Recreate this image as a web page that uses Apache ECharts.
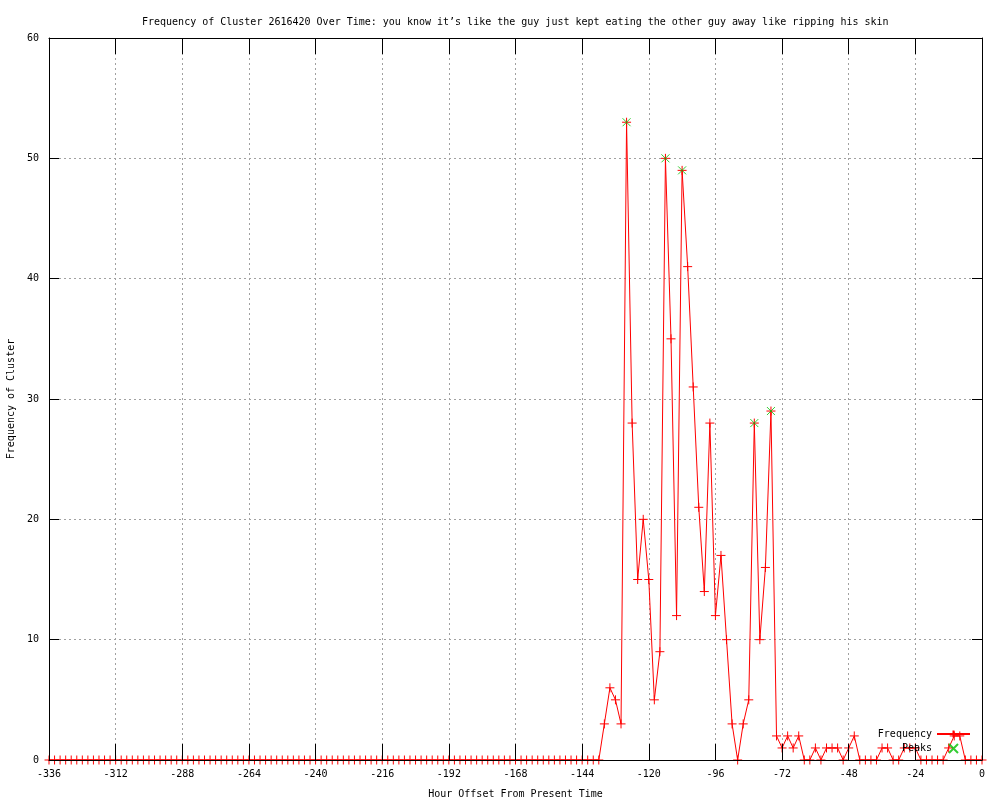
<!DOCTYPE html>
<html><head><meta charset="utf-8">
<script src="https://cdn.jsdelivr.net/npm/echarts@6/dist/echarts.min.js"></script>
<style>html,body{margin:0;padding:0;background:#fff}#c{width:1000px;height:800px}</style>
</head><body><div id="c"></div>
<script>
const titleText = 'Frequency of Cluster 2616420 Over Time: you know it\u2019s like the guy just kept eating the other guy away like ripping his skin';
const xAxisName = 'Hour Offset From Present Time';
const yAxisName = 'Frequency of Cluster';
const seriesNames = ['Frequency', 'Peaks'];

const hours = [
-336,-334,-332,-330,-328,-326,-324,-322,-320,-318,
-316,-314,-312,-310,-308,-306,-304,-302,-300,-298,
-296,-294,-292,-290,-288,-286,-284,-282,-280,-278,
-276,-274,-272,-270,-268,-266,-264,-262,-260,-258,
-256,-254,-252,-250,-248,-246,-244,-242,-240,-238,
-236,-234,-232,-230,-228,-226,-224,-222,-220,-218,
-216,-214,-212,-210,-208,-206,-204,-202,-200,-198,
-196,-194,-192,-190,-188,-186,-184,-182,-180,-178,
-176,-174,-172,-170,-168,-166,-164,-162,-160,-158,
-156,-154,-152,-150,-148,-146,-144,-142,-140,-138,
-136,-134,-132,-130,-128,-126,-124,-122,-120,-118,
-116,-114,-112,-110,-108,-106,-104,-102,-100,-98,
-96,-94,-92,-90,-88,-86,-84,-82,-80,-78,
-76,-74,-72,-70,-68,-66,-64,-62,-60,-58,
-56,-54,-52,-50,-48,-46,-44,-42,-40,-38,
-36,-34,-32,-30,-28,-26,-24,-22,-20,-18,
-16,-14,-12,-10,-8,-6,-4,-2,0];

const frequency = [
0,0,0,0,0,0,0,0,0,0,
0,0,0,0,0,0,0,0,0,0,
0,0,0,0,0,0,0,0,0,0,
0,0,0,0,0,0,0,0,0,0,
0,0,0,0,0,0,0,0,0,0,
0,0,0,0,0,0,0,0,0,0,
0,0,0,0,0,0,0,0,0,0,
0,0,0,0,0,0,0,0,0,0,
0,0,0,0,0,0,0,0,0,0,
0,0,0,0,0,0,0,0,0,0,
3,6,5,3,53,28,15,20,15,5,
9,50,35,12,49,41,31,21,14,28,
12,17,10,3,0,3,5,28,10,16,
29,2,1,2,1,2,0,0,1,0,
1,1,1,0,1,2,0,0,0,0,
1,1,0,0,1,1,1,0,0,0,
0,0,1,2,2,0,0,0,0];

const peakHours = [-128, -114, -108, -82, -76];
const peakValues = [53, 50, 49, 28, 29];

const xMin = -336, xMax = 0, xInterval = 24;
const yMin = 0, yMax = 60, yInterval = 10;

const FONT = 'DejaVu Sans Mono';
const gridBox = {left: 49, right: 18, top: 38, bottom: 40, containLabel: false, outerBoundsMode: 'none'};
const plusSym = 'path://M0,5L10,5M5,0L5,10';
const crossSym = 'path://M0,0L10,10M10,0L0,10';

const chart = echarts.init(document.getElementById('c'), null, {renderer: 'canvas'});

const borderAxisX = (pos) => ({
  gridIndex: 1, type: 'value', position: pos, min: xMin, max: xMax, interval: xInterval,
  axisLine: {show: true, onZero: false, lineStyle: {color: '#000', width: 1}},
  axisTick: {show: true, inside: true, length: 16, lineStyle: {color: '#000', width: 1}},
  axisLabel: {show: false}, splitLine: {show: false}, z: 10
});
const borderAxisY = (pos) => ({
  gridIndex: 1, type: 'value', position: pos, min: yMin, max: yMax, interval: yInterval,
  axisLine: {show: true, onZero: false, lineStyle: {color: '#000', width: 1}},
  axisTick: {show: true, inside: true, length: 10, lineStyle: {color: '#000', width: 1}},
  axisLabel: {show: false}, splitLine: {show: false}, z: 10
});

const option = {
  animation: false,
  backgroundColor: '#fff',
  title: {
    text: titleText, left: 137, top: 12,
    textStyle: {fontFamily: FONT, fontSize: 10, fontWeight: 'normal', color: '#000'}
  },
  legend: {
    data: seriesNames, orient: 'vertical', right: 24, top: 724, align: 'right',
    itemWidth: 33, itemHeight: 9, itemGap: 4,
    textStyle: {fontFamily: FONT, fontSize: 10, color: '#000'}
  },
  grid: [
    Object.assign({}, gridBox),
    Object.assign({}, gridBox)
  ],
  xAxis: [
    {
      gridIndex: 0, type: 'value', position: 'bottom', min: xMin, max: xMax, interval: xInterval,
      name: xAxisName, nameLocation: 'middle', nameGap: 29,
      nameTextStyle: {fontFamily: FONT, fontSize: 10, color: '#000'},
      axisLine: {show: false}, axisTick: {show: false},
      axisLabel: {fontFamily: FONT, fontSize: 10, color: '#000', margin: 9},
      splitLine: {show: true, lineStyle: {color: '#a0a0a0', width: 1, type: [2, 3]}}
    },
    borderAxisX('bottom'),
    borderAxisX('top')
  ],
  yAxis: [
    {
      gridIndex: 0, type: 'value', position: 'left', min: yMin, max: yMax, interval: yInterval,
      name: yAxisName, nameLocation: 'middle', nameGap: 28, nameRotate: 90,
      nameTextStyle: {fontFamily: FONT, fontSize: 10, color: '#000'},
      axisLine: {show: false}, axisTick: {show: false},
      axisLabel: {fontFamily: FONT, fontSize: 10, color: '#000', margin: 10},
      splitLine: {show: true, lineStyle: {color: '#a0a0a0', width: 1, type: [2, 3]}}
    },
    borderAxisY('left'),
    borderAxisY('right')
  ],
  series: [
    {
      name: seriesNames[0], type: 'line', xAxisIndex: 0, yAxisIndex: 0,
      data: hours.map((h, i) => [h, frequency[i]]),
      symbol: plusSym, symbolSize: 9, showSymbol: true, clip: false,
      color: '#ff0000',
      lineStyle: {color: '#ff0000', width: 1},
      itemStyle: {color: '#ff0000', borderColor: '#ff0000', borderWidth: 1},
      emphasis: {disabled: true}, z: 2
    },
    {
      name: seriesNames[1], type: 'scatter', xAxisIndex: 0, yAxisIndex: 0,
      data: peakHours.map((h, i) => [h, peakValues[i]]),
      symbol: crossSym, symbolSize: 8,
      color: '#00c000',
      itemStyle: {color: '#00c000', borderColor: '#00c000', borderWidth: 1},
      emphasis: {disabled: true}, z: 3
    }
  ]
};
chart.setOption(option);
</script>
</body></html>
